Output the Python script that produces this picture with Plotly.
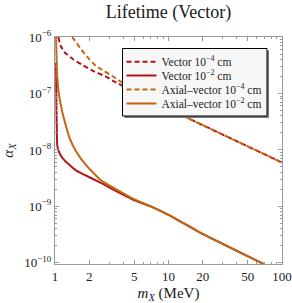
import plotly.graph_objects as go

# ---- data (mass in MeV, coupling alpha_X) ----
vec_4_mass = [1.07, 1.12, 1.225, 1.45, 1.78, 2.18, 2.76, 3.27, 5.0, 8.0, 14.5, 37.4, 100.0]
vec_4_alpha = [1.0e-6, 7.0e-7, 5.26e-7, 4.0e-7, 3.13e-7, 2.49e-7, 2.03e-7, 1.66e-7,
               1.07e-7, 6.6e-8, 3.73e-8, 1.52e-8, 5.98e-9]

vec_2_mass = [1.022, 1.026, 1.031, 1.048, 1.107, 1.225, 1.554, 2.035, 2.67, 3.5, 4.9,
              6.88, 10.0, 19.0, 70.0]
vec_2_alpha = [3.5e-7, 1.2e-7, 5.2e-8, 1.18e-8, 8.4e-9, 6.4e-9, 4.26e-9, 3.25e-9, 2.48e-9,
               1.84e-9, 1.31e-9, 1.01e-9, 7.1e-10, 3.44e-10, 9.4e-11]

ax_4_mass = [1.42, 1.477, 1.706, 1.983, 2.285, 2.705, 3.18, 3.59, 5.0, 8.0, 14.5, 37.4, 100.0]
ax_4_alpha = [1.0e-6, 8.9e-7, 6.0e-7, 4.14e-7, 3.1e-7, 2.49e-7, 2.06e-7, 1.75e-7,
              1.12e-7, 6.7e-8, 3.73e-8, 1.52e-8, 5.98e-9]

ax_2_mass = [1.022, 1.04, 1.069, 1.146, 1.225, 1.356, 1.554, 1.904, 2.49, 3.5, 4.9,
             6.88, 10.0, 19.0, 70.0]
ax_2_alpha = [1.0e-6, 2.6e-7, 1.18e-7, 5.2e-8, 3.05e-8, 1.55e-8, 9.0e-9, 5.2e-9, 3.0e-9,
              1.98e-9, 1.36e-9, 1.01e-9, 7.1e-10, 3.44e-10, 9.4e-11]

x_tickvals = [1, 2, 5, 10, 20, 50, 100]
x_ticktext = ["1", "2", "5", "10", "20", "50", "100"]
y_tickvals = [1e-10, 1e-9, 1e-8, 1e-7, 1e-6]
y_ticktext = ["10<sup>−10</sup>", "10<sup>−9</sup>", "10<sup>−8</sup>",
              "10<sup>−7</sup>", "10<sup>−6</sup>"]

names = ["Vector 10<sup>−4</sup> cm", "Vector 10<sup>−2</sup> cm",
         "Axial–vector 10<sup>−4</sup> cm", "Axial–vector 10<sup>−2</sup> cm"]

RED = "#b3141b"
ORANGE = "#c2660f"
FRAME = "#9a9a9a"
FONT = "Liberation Serif"
TXT = "#1a1a1a"

W, H = 292, 303
ML, MR, MT, MB = 55, 10, 37, 39
PW, PH = W - ML - MR, H - MT - MB


def px_x(p):
    return (p - ML) / PW


def px_y(p):
    return 1 - (p - MT) / PH


x_minor = [m * 10 ** d for d in range(0, 2) for m in range(2, 10)
           if m * 10 ** d not in x_tickvals]
y_minor = [m * 10.0 ** d for d in range(-10, -6) for m in range(2, 10)]

fig = go.Figure()
series = [
    (vec_4_mass, vec_4_alpha, RED, "5px,3px"),
    (vec_2_mass, vec_2_alpha, RED, "solid"),
    (ax_4_mass, ax_4_alpha, ORANGE, "5px,3px"),
    (ax_2_mass, ax_2_alpha, ORANGE, "solid"),
]
legend_ids = ["legend", "legend2", "legend3", "legend4"]
for (xs, ys, col, dash), nm, lg in zip(series, names, legend_ids):
    fig.add_trace(go.Scatter(
        x=xs, y=ys, mode="lines", name=nm, legend=lg,
        line=dict(color=col, width=2, dash=dash, shape="spline", smoothing=0.35),
    ))

axis_common = dict(
    type="log", showline=True, linecolor=FRAME, linewidth=1, mirror="ticks",
    ticks="inside", ticklen=4, tickcolor=FRAME, tickwidth=1,
    showgrid=False, zeroline=False, automargin=False,
    tickfont=dict(family=FONT, size=13, color=TXT),
)

# legend box (background + shadow), reference pixel positions
box_l, box_r, box_t, box_b = 122.5, 267.0, 48.5, 116.0
fig.add_shape(type="rect", xref="paper", yref="paper", layer="above",
              x0=px_x(box_l + 2), x1=px_x(box_r + 2), y0=px_y(box_b + 2), y1=px_y(box_t + 2),
              fillcolor="#7a7a7a", line=dict(width=0))
fig.add_shape(type="rect", xref="paper", yref="paper", layer="above",
              x0=px_x(box_l), x1=px_x(box_r), y0=px_y(box_b), y1=px_y(box_t),
              fillcolor="#f7f7f7", line=dict(color="black", width=1))

legend_rows = [61.7, 75.5, 89.5, 103.5]
legend_layout = {}
for lg, row in zip(legend_ids, legend_rows):
    legend_layout[lg] = dict(
        x=px_x(121.5), y=px_y(row), xanchor="left", yanchor="middle",
        bgcolor="rgba(0,0,0,0)", borderwidth=0,
        font=dict(family=FONT, size=11.5, color=TXT), itemwidth=30,
    )

fig.update_layout(
    width=W, height=H,
    margin=dict(l=ML, r=MR, t=MT, b=MB),
    paper_bgcolor="white", plot_bgcolor="white",
    title=dict(text="Lifetime (Vector)", x=0.5, xref="paper", y=1 - 12 / H,
               yref="container", yanchor="middle", xanchor="center",
               font=dict(family=FONT, size=18, color=TXT)),
    xaxis=dict(**axis_common, range=[0, 2], tickvals=x_tickvals, ticktext=x_ticktext,
               minor=dict(tickvals=x_minor, ticks="inside", ticklen=2, tickcolor=FRAME),
               title=dict(text="<i>m</i><sub><i>X</i></sub> (MeV)", standoff=4,
                          font=dict(family=FONT, size=15, color=TXT))),
    yaxis=dict(**axis_common, range=[-10.02, -6], tickvals=y_tickvals, ticktext=y_ticktext,
               minor=dict(tickvals=y_minor, ticks="inside", ticklen=2, tickcolor=FRAME),
               title=dict(text="<i>α</i><sub><i>X</i></sub>", standoff=8,
                          font=dict(family=FONT, size=15, color=TXT))),
    showlegend=True,
    **legend_layout,
)

# remove the default page margin so the figure sits at the window's corner
fig.write_html("out.html", config={"displayModeBar": False},
               post_script="document.body.style.margin='0';")
